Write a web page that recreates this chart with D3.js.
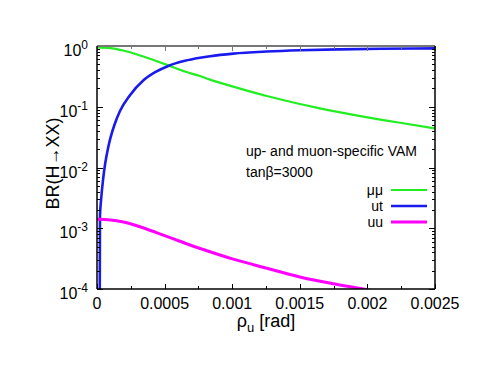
<!DOCTYPE html>
<html>
<head>
<meta charset="utf-8">
<script src="https://cdn.jsdelivr.net/npm/d3@7"></script>
<style>
  body { margin: 0; background: #fff; }
  svg { display: block; font-family: "Liberation Sans", Arial, sans-serif; }
</style>
</head>
<body>
<div id="chart"></div>
<script>
const width = 489;
const height = 374;

const MARGIN = {
  TOP: 46,
  LEFT: 97,
  RIGHT: 54,   // 489 - 435
  BOTTOM: 85   // 374 - 289
}

// rho_u [rad] and BR values
const rhoMuMu = [0, 0.0001, 0.000244, 0.00037, 0.000527, 0.00065, 0.000762, 0.000836, 0.001008, 0.001255, 0.0015, 0.00165, 0.001908, 0.00223, 0.0025];
const brMuMu  = [0.95, 0.925, 0.79, 0.64, 0.48, 0.38, 0.32, 0.28, 0.214, 0.15, 0.111, 0.094, 0.073, 0.055, 0.044];

const rhoUT = [0.00002, 0.000022, 0.00003, 0.000045, 0.00006, 0.00008, 0.0001, 0.00013, 0.00017, 0.000244, 0.000342, 0.00043, 0.000527, 0.00065, 0.000762, 0.000836, 0.001008, 0.001255, 0.0015, 0.0018, 0.0021, 0.0025];
const brUT  = [0.00005, 0.0016, 0.0029, 0.0064, 0.0114, 0.020, 0.031, 0.051, 0.085, 0.155, 0.27, 0.37, 0.47, 0.57, 0.64, 0.68, 0.75, 0.81, 0.85, 0.88, 0.90, 0.915];

const rhoUU = [0, 0.0001, 0.000195, 0.0003, 0.00044, 0.000572, 0.000688, 0.000836, 0.001008, 0.001255, 0.0015, 0.001748, 0.00197, 0.0021];
const brUU  = [0.0014, 0.00137, 0.00127, 0.00109, 0.00085, 0.00066, 0.00053, 0.00041, 0.00031, 0.00022, 0.000158, 0.000122, 0.0001, 0.000088];

const xTicks = [0, 0.0005, 0.001, 0.0015, 0.002, 0.0025];
const xTickLabels = ["0", "0.0005", "0.001", "0.0015", "0.002", "0.0025"];
const yDecades = [-4, -3, -2, -1, 0];

const series = [
  { name: "μμ", rho: rhoMuMu, br: brMuMu, color: "#22ee22", width: 2.2 },
  { name: "ut", rho: rhoUT, br: brUT, color: "#1a1aee", width: 2.6 },
  { name: "uu", rho: rhoUU, br: brUU, color: "#ff00ff", width: 3 }
]

const innerW = width - MARGIN.LEFT - MARGIN.RIGHT;
const innerH = height - MARGIN.TOP - MARGIN.BOTTOM;

let svg = d3.select("#chart")
  .append("svg")
  .attr("width", width)
  .attr("height", height)
  .append("g")
  .attr("transform", "translate(" + MARGIN.LEFT + "," + MARGIN.TOP + ")");

let x = d3.scaleLinear().domain([0, 0.0025]).range([0, innerW]);
let y = d3.scaleLog().domain([1e-4, 1]).range([innerH, 0]);

// clip for the curves
svg.append("defs").append("clipPath").attr("id", "clip")
  .append("rect").attr("width", innerW).attr("height", innerH);

let curves = svg.append("g").attr("clip-path", "url(#clip)");
let line = d3.line()
  .x(d => x(d[0]))
  .y(d => y(d[1]))
  .curve(d3.curveMonotoneX);

series.forEach(s => {
  curves.append("path")
    .datum(s.rho.map((r, i) => [r, s.br[i]]))
    .attr("d", line)
    .attr("fill", "none")
    .attr("stroke", s.color)
    .attr("stroke-width", s.width);
});

// minor/major ticks, drawn inward on all four sides
let ticks = svg.append("g").attr("stroke", "#000").attr("stroke-width", 1);
let xMinor = d3.range(0, 11).map(i => i * 0.00025);
xMinor.forEach((v, i) => {
  let len = i % 2 === 0 ? 5 : 3;
  let px = Math.round(x(v)) + 0.5;
  ticks.append("line").attr("x1", px).attr("x2", px).attr("y1", innerH).attr("y2", innerH - len);
  ticks.append("line").attr("x1", px).attr("x2", px).attr("y1", 0).attr("y2", len).attr("stroke", "#777");
});
yDecades.forEach(e => {
  for (let m = 1; m <= 9; m++) {
    let v = m * Math.pow(10, e);
    if (v > 1) break;
    let len = m === 1 ? 6 : 3;
    let py = Math.round(y(v)) + 0.5;
    ticks.append("line").attr("x1", 0).attr("x2", len).attr("y1", py).attr("y2", py);
    ticks.append("line").attr("x1", innerW).attr("x2", innerW - len).attr("y1", py).attr("y2", py);
  }
});

// frame: top is grey, the rest black
svg.append("line").attr("x1", 0).attr("x2", innerW).attr("y1", 0).attr("y2", 0)
  .attr("stroke", "#777").attr("stroke-width", 1.8);
svg.append("line").attr("x1", 0).attr("x2", 0).attr("y1", 0).attr("y2", innerH)
  .attr("stroke", "#000").attr("stroke-width", 1.5);
svg.append("line").attr("x1", innerW).attr("x2", innerW).attr("y1", 0).attr("y2", innerH)
  .attr("stroke", "#000").attr("stroke-width", 1.5);
svg.append("line").attr("x1", 0).attr("x2", innerW).attr("y1", innerH).attr("y2", innerH)
  .attr("stroke", "#000").attr("stroke-width", 1.5);

// x tick labels
svg.append("g").selectAll("text")
  .data(xTicks)
  .enter()
  .append("text")
  .attr("x", d => x(d))
  .attr("y", innerH + 20)
  .attr("text-anchor", "middle")
  .attr("font-size", 16)
  .text((d, i) => xTickLabels[i]);

// y tick labels 10^e
let yLab = svg.append("g");
yDecades.forEach(e => {
  let t = yLab.append("text")
    .attr("x", -9)
    .attr("y", y(Math.pow(10, e)) + 10)
    .attr("text-anchor", "end")
    .attr("font-size", 16);
  t.append("tspan").text("10");
  t.append("tspan").attr("dy", -7).attr("font-size", 12).text(e === 0 ? "0" : "-" + (-e));
});

// axis titles
let xt = svg.append("text")
  .attr("x", innerW / 2)
  .attr("y", innerH + 38)
  .attr("text-anchor", "middle")
  .attr("font-size", 18);
xt.append("tspan").text("ρ");
xt.append("tspan").attr("dy", 5).attr("font-size", 13).text("u");
xt.append("tspan").attr("dy", -5).text(" [rad]");

svg.append("text")
  .attr("transform", "translate(-38," + (innerH / 2 - 4) + ") rotate(-90)")
  .attr("text-anchor", "middle")
  .attr("font-size", 18)
  .text("BR(H→XX)");

// annotation
svg.append("text").attr("x", 149).attr("y", 110).attr("font-size", 14)
  .text("up- and muon-specific VAM");
svg.append("text").attr("x", 149).attr("y", 131).attr("font-size", 14)
  .text("tanβ=3000");

// legend
let legend = svg.append("g");
series.forEach((s, i) => {
  let ly = 144 + i * 16;
  legend.append("text")
    .attr("x", 286)
    .attr("y", ly + 5)
    .attr("text-anchor", "end")
    .attr("font-size", 14)
    .text(s.name);
  legend.append("line")
    .attr("x1", 294).attr("x2", 330)
    .attr("y1", ly).attr("y2", ly)
    .attr("stroke", s.color)
    .attr("stroke-width", s.width);
});
</script>
</body>
</html>
